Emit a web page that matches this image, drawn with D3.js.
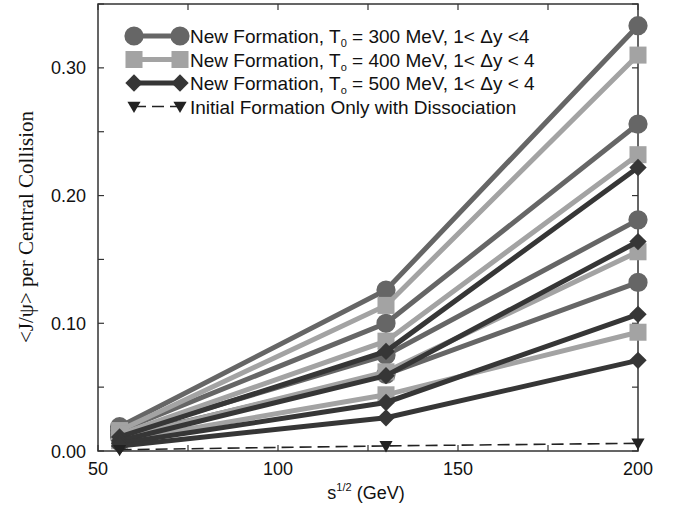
<!DOCTYPE html>
<html>
<head>
<meta charset="utf-8">
<script src="https://cdn.jsdelivr.net/npm/d3@7"></script>
<style>
  body { margin: 0; background: #fff; }
  svg { display: block; }
  .tick-label { font-family: "Liberation Sans", Arial, sans-serif; font-size: 18px; fill: #111; }
  .legend text { font-family: "Liberation Sans", Arial, sans-serif; font-size: 19px; fill: #111; }
</style>
</head>
<body>
<svg id="chart" width="677" height="508"></svg>
<script>
// energies (GeV)
var energies = [56, 130, 200];

// New Formation, T0 = 300 MeV
var circleSeries = [
    [0.019, 0.126, 0.333],
    [0.016, 0.100, 0.256],
    [0.013, 0.075, 0.181],
    [0.011, 0.060, 0.132]
];
// New Formation, To = 400 MeV
var squareSeries = [
    [0.016, 0.114, 0.310],
    [0.013, 0.086, 0.232],
    [0.010, 0.062, 0.156],
    [0.008, 0.044, 0.093]
];
// New Formation, To = 500 MeV
var diamondSeries = [
    [0.011, 0.078, 0.222],
    [0.008, 0.059, 0.164],
    [0.006, 0.038, 0.107],
    [0.004, 0.026, 0.071]
];
// Initial formation only with dissociation
var initialSeries = [0.001, 0.004, 0.006];

var xTicks = [50, 100, 150, 200];
var yTicks = [0.00, 0.10, 0.20, 0.30];

var svg = d3.select("#chart");
var pLeft = 98, pRight = 638, pTop = 4, pBottom = 451;

var x = d3.scaleLinear().domain([50, 200]).range([pLeft, pRight]);
var y = d3.scaleLinear().domain([0, 0.35]).range([pBottom, pTop]);

// inward ticks on all four sides
var tickLen = 6;
var frame = svg.append("g").attr("stroke", "#333").attr("stroke-width", 1.2);
d3.range(50, 201, 25).forEach(function(v) {
    frame.append("line").attr("x1", x(v)).attr("x2", x(v)).attr("y1", pBottom).attr("y2", pBottom - tickLen);
    frame.append("line").attr("x1", x(v)).attr("x2", x(v)).attr("y1", pTop).attr("y2", pTop + tickLen);
});
d3.range(0, 0.351, 0.05).forEach(function(v) {
    frame.append("line").attr("x1", pLeft).attr("x2", pLeft + tickLen).attr("y1", y(v)).attr("y2", y(v));
    frame.append("line").attr("x1", pRight).attr("x2", pRight - tickLen).attr("y1", y(v)).attr("y2", y(v));
});
frame.append("rect")
    .attr("x", pLeft).attr("y", pTop)
    .attr("width", pRight - pLeft).attr("height", pBottom - pTop)
    .attr("fill", "none").attr("stroke-width", 1.5);

// tick labels
svg.selectAll(".xl").data(xTicks).enter().append("text")
    .attr("class", "tick-label")
    .attr("x", function(d) { return x(d); })
    .attr("y", 475)
    .attr("text-anchor", "middle")
    .text(function(d) { return d; });

svg.selectAll(".yl").data(yTicks).enter().append("text")
    .attr("class", "tick-label")
    .attr("x", 86)
    .attr("y", function(d) { return y(d) + 6.5; })
    .attr("text-anchor", "end")
    .text(function(d) { return d.toFixed(2); });

// axis titles
var xt = svg.append("text")
    .attr("class", "tick-label")
    .attr("x", 366).attr("y", 499)
    .attr("text-anchor", "middle");
xt.append("tspan").text("s");
xt.append("tspan").attr("font-size", "11px").attr("dy", -8).text("1/2");
xt.append("tspan").attr("dy", 8).text(" (GeV)");

svg.append("text")
    .attr("transform", "translate(33," + 227 + ") rotate(-90)")
    .attr("text-anchor", "middle")
    .attr("font-family", "'Liberation Serif', 'Times New Roman', serif")
    .attr("font-size", "21px")
    .attr("fill", "#111")
    .text("<J/\u03C8> per Central Collision");

var line = d3.line()
    .x(function(d, i) { return x(energies[i]); })
    .y(function(d) { return y(d); });

var circleColor = "#666666", squareColor = "#a3a3a3", diamondColor = "#363636";

// diamond drawn as a square turned 45 degrees
var families = [
    { data: circleSeries, color: circleColor, symbol: d3.symbolCircle, size: 290, rot: 0 },
    { data: squareSeries, color: squareColor, symbol: d3.symbolSquare, size: 290, rot: 0 },
    { data: diamondSeries, color: diamondColor, symbol: d3.symbolSquare, size: 150, rot: 45 }
];

var plot = svg.append("g");

families.forEach(function(f) {
    var g = plot.append("g");
    f.data.forEach(function(s) {
        g.append("path")
            .attr("d", line(s))
            .attr("fill", "none")
            .attr("stroke", f.color)
            .attr("stroke-width", 5);
        g.selectAll(null).data(s).enter().append("path")
            .attr("d", d3.symbol().type(f.symbol).size(f.size))
            .attr("transform", function(d, i) { return "translate(" + x(energies[i]) + "," + y(d) + ") rotate(" + f.rot + ")"; })
            .attr("fill", f.color);
    });
});

// dashed initial formation line
plot.append("path")
    .attr("d", line(initialSeries))
    .attr("fill", "none")
    .attr("stroke", "#222")
    .attr("stroke-width", 1.6)
    .attr("stroke-dasharray", "12,6");
plot.selectAll(".tri").data(initialSeries).enter().append("path")
    .attr("d", d3.symbol().type(d3.symbolTriangle).size(75))
    .attr("transform", function(d, i) { return "translate(" + x(energies[i]) + "," + (y(d) - 1) + ") rotate(180)"; })
    .attr("fill", "#222");

// legend
var legend = svg.append("g").attr("class", "legend");
var legendRows = [
    { sym: d3.symbolCircle, size: 290, rot: 0, color: circleColor, sub: "0", rest: " = 300 MeV, 1< \u0394y <4", dashed: false },
    { sym: d3.symbolSquare, size: 290, rot: 0, color: squareColor, sub: "o", rest: " = 400 MeV, 1< \u0394y < 4", dashed: false },
    { sym: d3.symbolSquare, size: 150, rot: 45, color: diamondColor, sub: "o", rest: " = 500 MeV, 1< \u0394y < 4", dashed: false },
    { sym: d3.symbolTriangle, size: 75, rot: 180, color: "#222", dashed: true }
];
var lx1 = 134, lx2 = 180, ly0 = 36, ldy = 23.5;
legendRows.forEach(function(r, i) {
    var yy = ly0 + i * ldy;
    var g = legend.append("g");
    g.append("line")
        .attr("x1", lx1).attr("x2", lx2).attr("y1", yy).attr("y2", yy)
        .attr("stroke", r.color)
        .attr("stroke-width", r.dashed ? 1.6 : 5)
        .attr("stroke-dasharray", r.dashed ? "12,6" : null);
    [lx1, lx2].forEach(function(px) {
        g.append("path")
            .attr("d", d3.symbol().type(r.sym).size(r.size))
            .attr("transform", "translate(" + px + "," + (r.dashed ? yy - 1 : yy) + ") rotate(" + r.rot + ")")
            .attr("fill", r.color);
    });
    var t = g.append("text").attr("x", 190).attr("y", yy + 7);
    if (r.dashed) {
        t.text("Initial Formation Only with Dissociation");
    } else {
        t.append("tspan").text("New Formation, T");
        t.append("tspan").attr("font-size", "11px").attr("dy", 4).text(r.sub);
        t.append("tspan").attr("dy", -4).text(r.rest);
    }
});
</script>
</body>
</html>
